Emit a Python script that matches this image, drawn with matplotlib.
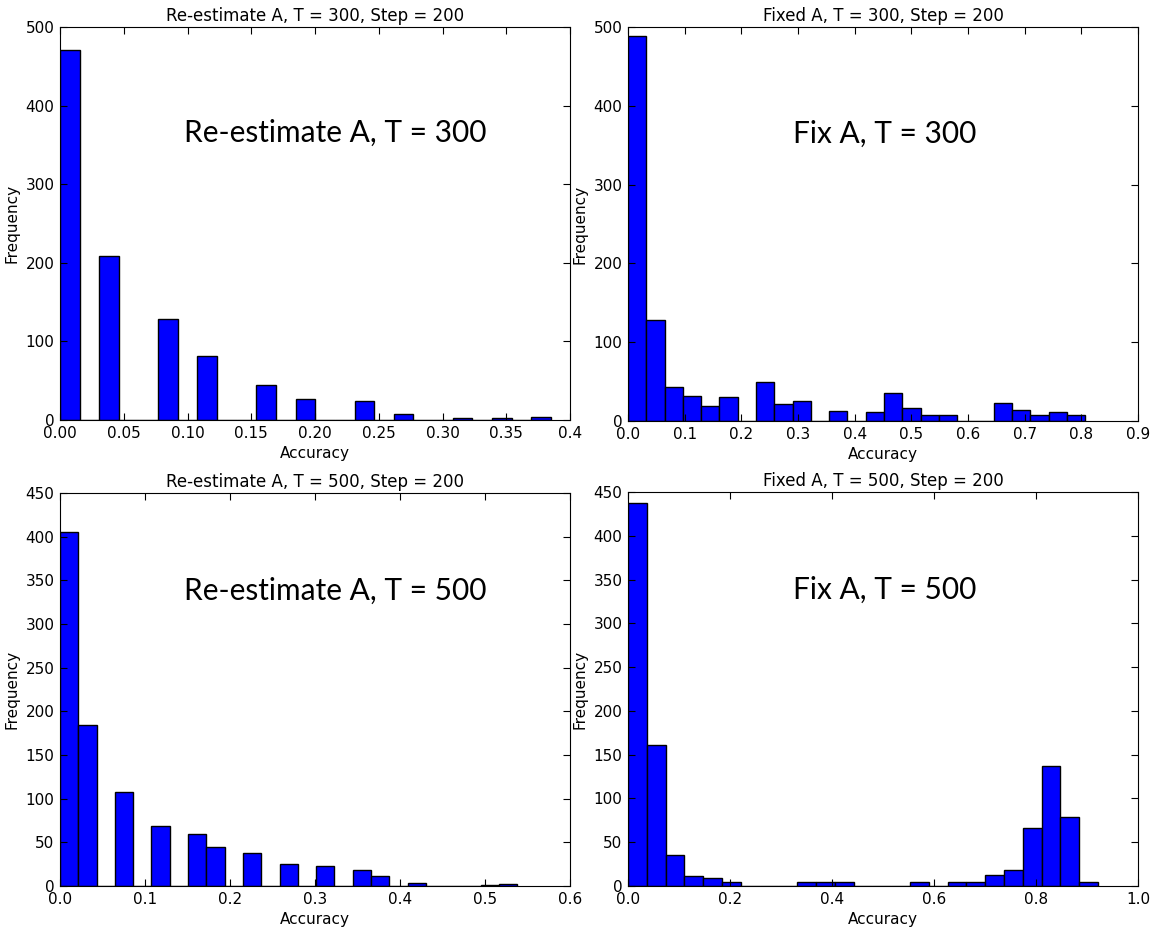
import numpy as np
import matplotlib
matplotlib.use('Agg')
import matplotlib.pyplot as plt

# counts per bin (25 equal bins from 0 to x_max)
n_bins = 25

reest_300_max = 0.385
reest_300_counts = [471, 0, 209, 0, 0, 128, 0, 81, 0, 0, 45, 0, 27, 0, 0,
                    24, 0, 7, 0, 0, 2, 0, 3, 0, 4]

fixed_300_max = 0.8066
fixed_300_counts = [488, 128, 43, 32, 19, 30, 0, 49, 21, 26, 0, 13, 0, 11, 35,
                    17, 8, 7, 0, 0, 23, 14, 7, 12, 7]

reest_500_max = 0.538
reest_500_counts = [405, 184, 0, 108, 0, 69, 0, 60, 45, 0, 38, 0, 25, 0, 23,
                    0, 18, 11, 0, 4, 0, 0, 0, 1, 2]

fixed_500_max = 0.9216
fixed_500_counts = [437, 161, 35, 11, 9, 4, 0, 0, 0, 5, 4, 5, 0, 0, 0,
                    4, 0, 5, 4, 13, 18, 66, 137, 79, 5]

titles = ['Re-estimate A, T = 300, Step = 200', 'Fixed A, T = 300, Step = 200',
          'Re-estimate A, T = 500, Step = 200', 'Fixed A, T = 500, Step = 200']
big_labels = ['Re-estimate A, T = 300', 'Fix A, T = 300',
              'Re-estimate A, T = 500', 'Fix A, T = 500']

panels = [
    (reest_300_max, reest_300_counts, 0.4, np.arange(0, 0.41, 0.05),
     ['0.00', '0.05', '0.10', '0.15', '0.20', '0.25', '0.30', '0.35', '0.4'],
     500, np.arange(0, 501, 100)),
    (fixed_300_max, fixed_300_counts, 0.9, np.arange(0, 0.91, 0.1),
     ['0.0', '0.1', '0.2', '0.3', '0.4', '0.5', '0.6', '0.7', '0.8', '0.9'],
     500, np.arange(0, 501, 100)),
    (reest_500_max, reest_500_counts, 0.6, np.arange(0, 0.61, 0.1),
     ['0.0', '0.1', '0.2', '0.3', '0.4', '0.5', '0.6'],
     450, np.arange(0, 451, 50)),
    (fixed_500_max, fixed_500_counts, 1.0, np.arange(0, 1.01, 0.2),
     ['0.0', '0.2', '0.4', '0.6', '0.8', '1.0'],
     450, np.arange(0, 451, 50)),
]

W, H = 1158, 930
fig = plt.figure(figsize=(W / 100, H / 100), dpi=100, facecolor='white')

# axes boxes in pixels: left, top, right, bottom
boxes = [(60, 27, 570, 420), (628, 27, 1138, 421),
         (60, 493, 570, 886), (628, 492, 1138, 886)]
# where the big labels sit, in axes fractions
label_pos = [(0.539, 0.73), (0.504, 0.73), (0.539, 0.752), (0.504, 0.752)]

for i, (xmax, counts, xlim, xt, xtl, ylim, yt) in enumerate(panels):
    l, t, r, b = boxes[i]
    ax = fig.add_axes([l / W, 1 - b / H, (r - l) / W, (b - t) / H])
    edges = np.linspace(0, xmax, n_bins + 1)
    ax.hist(edges[:-1], bins=edges, weights=counts, color='#0000ff',
            edgecolor='black', linewidth=1)
    ax.set_xlim(0, xlim)
    ax.set_ylim(0, ylim)
    ax.set_xticks(xt)
    ax.set_xticklabels(xtl)
    ax.set_yticks(yt)
    ax.tick_params(direction='in', top=True, right=True, labelsize=11,
                   length=5, pad=4)
    ax.set_title(titles[i], fontsize=12, pad=4)
    ax.set_xlabel('Accuracy', fontsize=11)
    ax.set_ylabel('Frequency', fontsize=11)
    ax.text(label_pos[i][0], label_pos[i][1], big_labels[i],
            transform=ax.transAxes, ha='center', va='center', fontsize=21.5,
            family='Lato')

fig.savefig('out.png', dpi=100, facecolor='white')
